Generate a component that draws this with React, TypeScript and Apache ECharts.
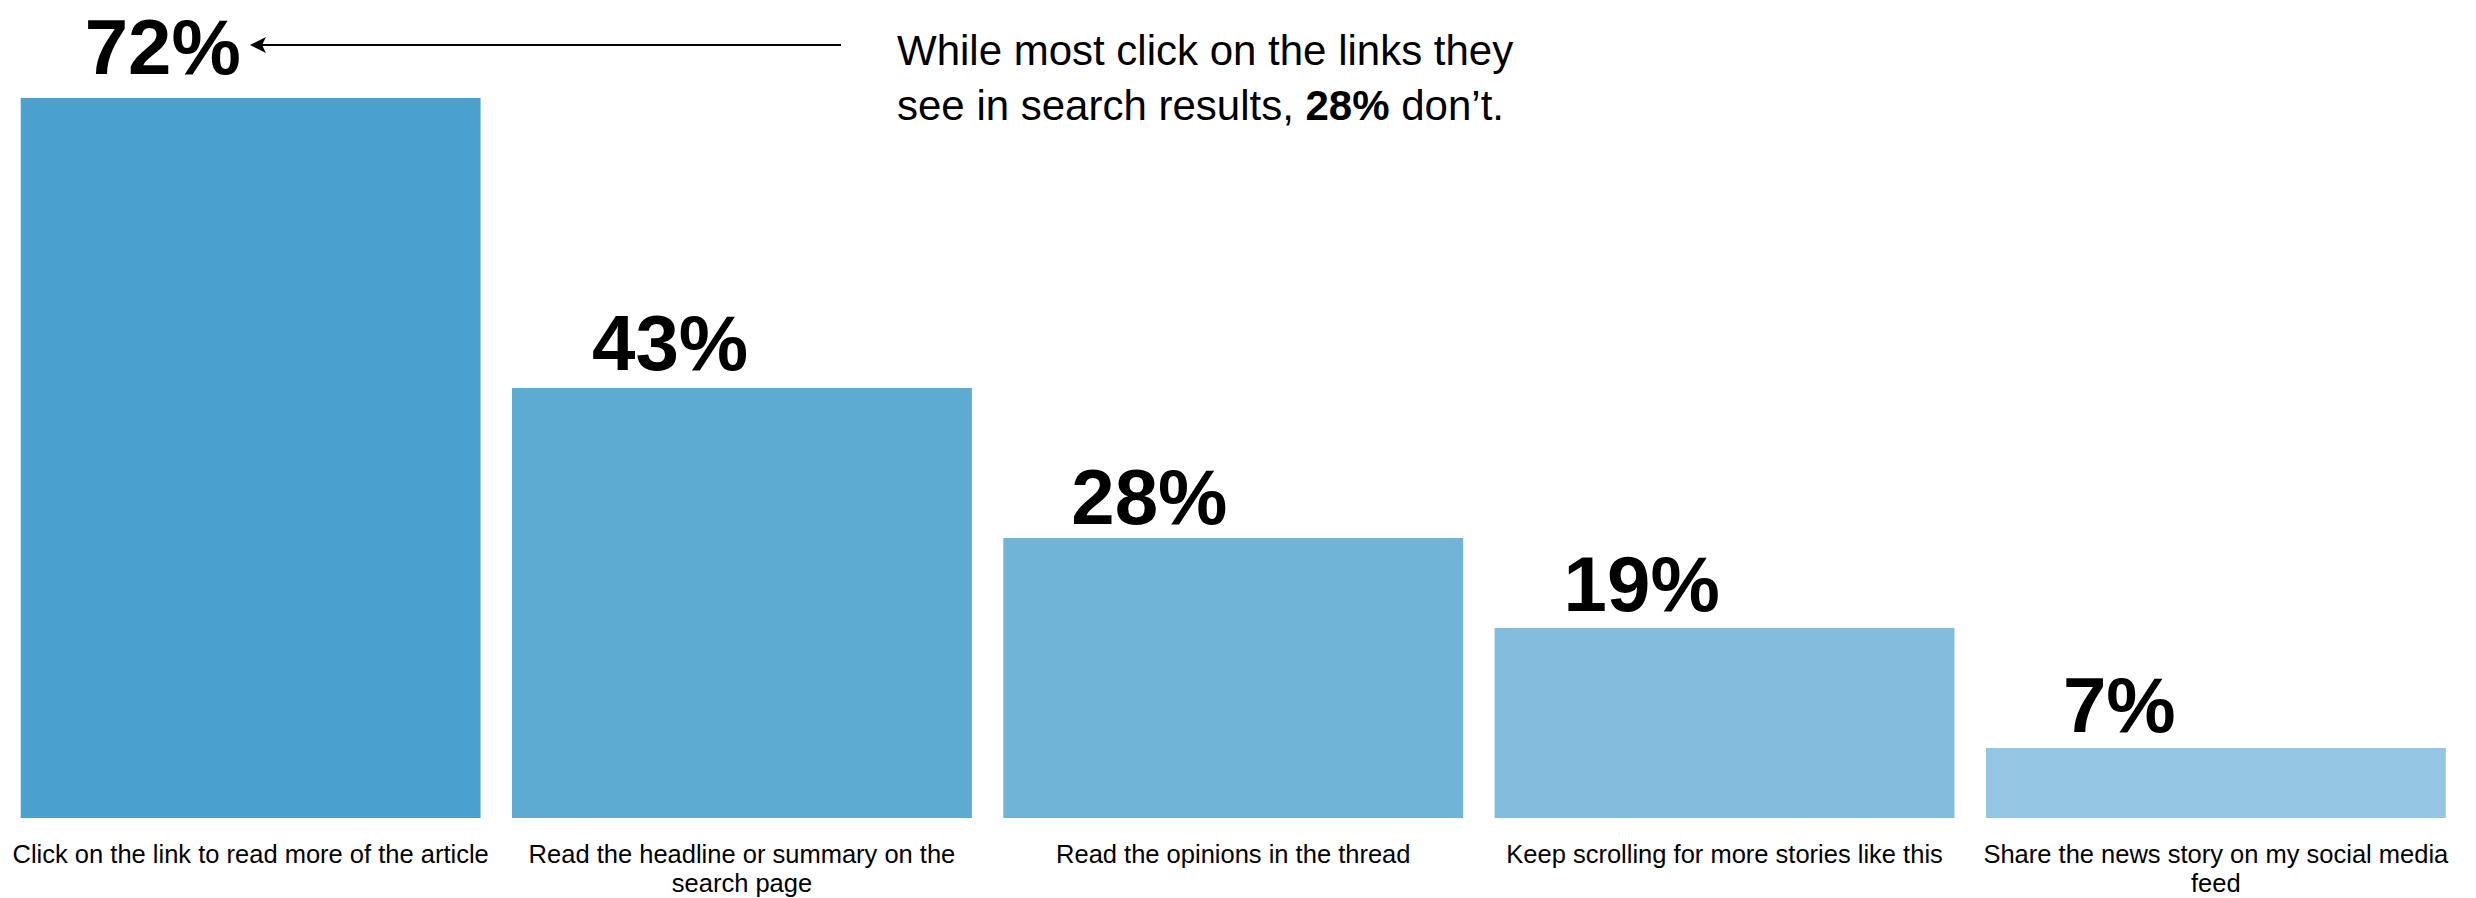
import React, { useEffect, useRef } from "react";
import * as echarts from "echarts";

const categories = [
  "Click on the link to read more of the article",
  "Read the headline or summary on the\nsearch page",
  "Read the opinions in the thread",
  "Keep scrolling for more stories like this",
  "Share the news story on my social media\nfeed",
];
const values = [72, 43, 28, 19, 7];
const barColors = ["#4BA1CE", "#5DAAD2", "#70B4D8", "#82BDDD", "#94C6E3"];
const labelDX = [64, 80, 68, 69, 77];
const labelDY = [-51, -45, -41, -44, -43];

export default function App() {
  const ref = useRef<HTMLDivElement>(null);
  useEffect(() => {
    if (!ref.current) return;
    const chart = echarts.init(ref.current, undefined, { renderer: "svg" });
    const notFont = "'Liberation Sans', Arial, sans-serif";
    chart.setOption({
      animation: false,
      backgroundColor: "#ffffff",
      grid: { left: 5, right: 14.5, top: 18, bottom: 80, containLabel: false, outerBoundsMode: "none" },
      xAxis: {
        type: "category",
        data: categories,
        axisLine: { show: false },
        axisTick: { show: false },
        axisLabel: {
          interval: 0,
          margin: 21,
          color: "#000",
          fontSize: 25.5,
          lineHeight: 29,
          fontFamily: notFont,
        },
      },
      yAxis: { type: "value", min: 0, max: 80, show: false, splitLine: { show: false } },
      series: [
        {
          type: "bar",
          barCategoryGap: "6.4%",
          data: values.map((v, i) => ({
            value: v,
            itemStyle: { color: barColors[i] },
            label: { position: [labelDX[i], labelDY[i]] },
          })),
          label: {
            show: true,
            formatter: "{c}%",
            align: "left",
            verticalAlign: "middle",
            color: "#000",
            fontSize: 78,
            lineHeight: 62,
            fontWeight: "bold",
            fontFamily: notFont,
          },
        },
      ],
      graphic: [
        {
          type: "line",
          shape: { x1: 258, y1: 45, x2: 841, y2: 45 },
          style: { stroke: "#000", lineWidth: 2 },
        },
        {
          type: "polygon",
          shape: { points: [[250, 45], [266, 37], [262, 45], [266, 53]] },
          style: { fill: "#000" },
        },
        {
          type: "text",
          x: 897,
          y: 23,
          style: {
            text: `While most click on the links they\nsee in search results, {b|${100 - values[0]}%} don’t.`,
            fill: "#000",
            fontSize: 42,
            fontFamily: notFont,
            lineHeight: 55,
            verticalAlign: "top",
            rich: {
              b: {
                fontSize: 42,
                fontWeight: "bold",
                fontFamily: notFont,
                lineHeight: 55,
                fill: "#000",
              },
            },
          },
        },
      ],
    });
    return () => chart.dispose();
  }, []);
  return <div ref={ref} style={{ position: "fixed", left: 0, top: 0, width: 2476, height: 898 }} />;
}
